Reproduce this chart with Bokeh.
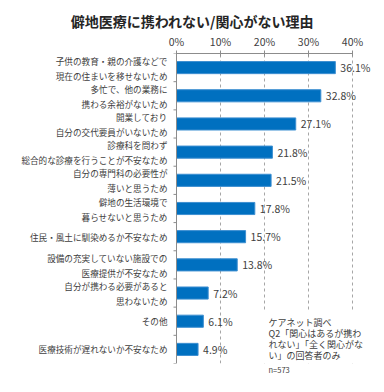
from bokeh.plotting import figure
from bokeh.models import FactorRange, Range1d, FixedTicker, BoxAnnotation, Label, Span, Title, ColumnDataSource
from bokeh.embed import file_html
from bokeh.resources import INLINE

title_text = "僻地医療に携われない/関心がない理由"
categories = [
    "子供の教育・親の介護などで\n現在の住まいを移せないため",
    "多忙で、他の業務に\n携わる余裕がないため",
    "開業しており\n自分の交代要員がいないため",
    "診療科を問わず\n総合的な診療を行うことが不安なため",
    "自分の専門科の必要性が\n薄いと思うため",
    "僻地の生活環境で\n暮らせないと思うため",
    "住民・風土に馴染めるか不安なため",
    "設備の充実していない施設での\n医療提供が不安なため",
    "自分が携わる必要があると\n思わないため",
    "その他",
    "医療技術が遅れないか不安なため",
]
values = [36.1, 32.8, 27.1, 21.8, 21.5, 17.8, 15.7, 13.8, 7.2, 6.1, 4.9]
value_labels = ["36.1%", "32.8%", "27.1%", "21.8%", "21.5%", "17.8%", "15.7%", "13.8%", "7.2%", "6.1%", "4.9%"]
x_ticks = [0, 10, 20, 30, 40]
x_tick_labels = ["0%", "10%", "20%", "30%", "40%"]
note_lines = ["ケアネット調べ", "Q2「関心はあるが携わ", "れない」「全く関心がな", "い」の回答者のみ"]
n_text = "n=573"

JP = "Noto Sans CJK JP"
TXT = "#404040"
AX = "#8c8c8c"

one_line = [c for c in categories if "\n" not in c]
two_line = [c for c in categories if "\n" in c]
src = ColumnDataSource(dict(cat=categories, val=values, lab=value_labels))
src1 = ColumnDataSource(dict(cat=one_line, txt=one_line, zero=[0] * len(one_line)))
src2 = ColumnDataSource(dict(cat=two_line,
                             top=[c.split("\n")[0] for c in two_line],
                             bot=[c.split("\n")[1] for c in two_line],
                             zero=[0] * len(two_line)))

PX = 4.4  # pixels per percent
p = figure(
    frame_width=384, frame_height=310,
    y_range=FactorRange(factors=list(reversed(categories))),
    x_range=Range1d(-176 / PX, 208 / PX),
    x_axis_location="above",
    output_backend="svg", toolbar_location=None,
    min_border_left=0, min_border_right=0, min_border_top=53, min_border_bottom=19,
)
p.outline_line_color = None
p.background_fill_color = "white"

p.title.text = title_text
p.title.text_font = JP
p.title.text_font_size = "14px"
p.title.text_font_style = "bold"
p.title.text_color = "#262626"
p.title.align = "center"
p.title.standoff = 0

p.hbar(y="cat", right="val", left=0, height=0.43, source=src,
       fill_color="#0070c0", line_color="#3d8fd1", line_width=1)

p.text(x="val", y="cat", text="lab", source=src, x_offset=5,
       text_baseline="middle", text_align="left",
       text_font_size="10.5px", text_color=TXT, text_font={"value": JP})

lab_kw = dict(x_offset=-9, text_align="right", text_baseline="middle",
              text_font={"value": JP}, text_font_size="8.6px", text_color=TXT)
p.text(x="zero", y="cat", text="txt", source=src1, **lab_kw)
p.text(x="zero", y="cat", text="top", source=src2, y_offset=-7, **lab_kw)
p.text(x="zero", y="cat", text="bot", source=src2, y_offset=8, **lab_kw)

xa = p.xaxis[0]
xa.ticker = FixedTicker(ticks=x_ticks)
xa.major_label_overrides = {t: l for t, l in zip(x_ticks, x_tick_labels)}
xa.bounds = (0, 40)
xa.axis_line_color = AX
xa.major_tick_line_color = AX
xa.major_tick_in = 3
xa.major_tick_out = 3
xa.minor_tick_line_color = None
xa.major_label_standoff = 2
xa.major_label_text_font = JP
xa.major_label_text_font_size = "10.5px"
xa.major_label_text_color = TXT

# category axis: line at 0 and small ticks on the category boundaries
p.yaxis.visible = False
p.add_layout(Span(location=0, dimension="height", line_color=AX, line_width=1))
bounds_y = list(range(len(categories) + 1))
p.segment(x0=[-3 / PX] * len(bounds_y), x1=[0] * len(bounds_y), y0=bounds_y, y1=bounds_y,
          line_color=AX, line_width=1)

p.ygrid.grid_line_color = None
p.xgrid.ticker = FixedTicker(ticks=x_ticks[1:])
p.xgrid.grid_line_color = "#a6a6a6"
p.xgrid.grid_line_dash = "3 3"

p.add_layout(BoxAnnotation(left=19.6, top=1.88, fill_color="white", fill_alpha=1.0,
                           line_color=None, level="underlay"))
for i, line in enumerate(note_lines):
    p.add_layout(Label(x=20.9, y=1.455 - 0.39 * i, text=line, text_baseline="middle",
                       text_font=JP, text_font_size="9px", text_color=TXT))
p.add_layout(Title(text=n_text, align="left", offset=268, standoff=0,
                   vertical_align="top", text_line_height=0.7,
                   text_font=JP, text_font_size="7.5px", text_font_style="normal",
                   text_color=TXT), "below")

open("out.html", "w").write(file_html(p, INLINE))
